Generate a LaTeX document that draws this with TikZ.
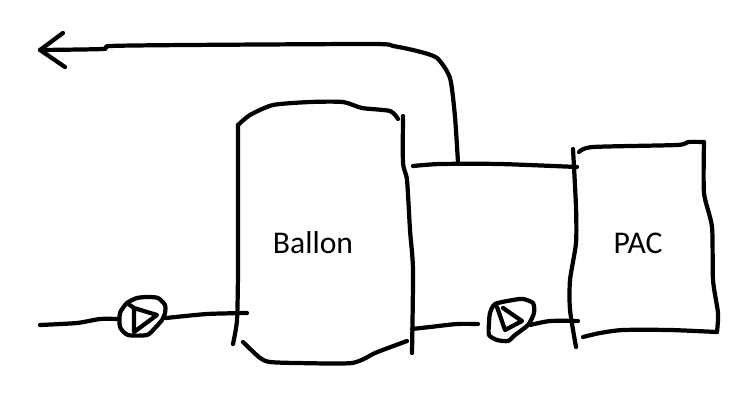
\documentclass[tikz,border=0pt]{standalone}
\usepackage{fontspec}
\setmainfont{Carlito}
\tikzset{
  sketch/.style={line width=2.4pt,line cap=round,line join=round,black},
  wobbly/.style={sketch,smooth,tension=0.4},
  lbl/.style={font=\fontsize{18pt}{22pt}\selectfont,inner sep=0pt}
}
\begin{document}
\begin{tikzpicture}[x=0.02cm,y=-0.02cm]
        \useasboundingbox (0,0) rectangle (756,409);
        \node[lbl] (ballon) at (313,243) {Ballon};
        \node[lbl] (pac) at (638,243) {PAC};
        \coordinate (inlet) at (40,325);
        \coordinate (pumpAin) at (119,319);
        \coordinate (pumpAout) at (166,318);
        \coordinate (ballonIn) at (247,313);
        \coordinate (ballonOut) at (412,329);
        \coordinate (pumpBin) at (478,324);
        \coordinate (pumpBout) at (530,325);
        \coordinate (pacIn) at (578,321);
        \coordinate (pipeL) at (413,166);
        \coordinate (pipeR) at (577,167);
        \coordinate (tee) at (458,163);
        \coordinate (tip) at (40,50);
        % ballon
        \draw[wobbly] plot coordinates {(238,125) (250,115) (273,105) (310,102) (343,102) (362,108) (390,111) (398,119)};
        \draw[wobbly] plot coordinates {(238,125) (238,180) (238,270) (237,320) (233,344)};
        \draw[wobbly] plot coordinates {(403,116) (403,163) (407,180) (410,230) (413,270) (412,353)};
        \draw[wobbly] plot coordinates {(243,342) (260,358) (270,362) (297,363) (352,363) (375,353) (388,348) (407,341)};
        % pac
        \draw[wobbly] plot coordinates {(573,149) (576,207) (576,243) (570,280) (570,310) (576,347)};
        \draw[wobbly] plot coordinates {(579,152) (593,147) (677,145) (688,142) (704,142)};
        \draw[wobbly] plot coordinates {(704,142) (704,193) (712,227) (713,280) (718,313) (717,332)};
        \draw[wobbly] plot coordinates {(717,332) (670,330) (623,330) (600,333) (583,337)};
        % pumps
        \draw[wobbly] plot[smooth cycle] coordinates {(120,313) (127,303) (137,298) (148,297) (158,298) (165,305) (165,313) (162,320) (155,328) (147,335) (128,335) (120,327)};
        \draw[sketch] (127,303) -- (134,308) -- (157,315) -- (134,332) -- (134,308);
        \draw[wobbly] plot[smooth cycle] coordinates {(490,313) (495,304) (513,300) (523,299) (533,303) (534,313) (528,325) (515,335) (508,341) (497,340) (489,335) (489,323)};
        \draw[sketch] (503,308) -- (522,321) -- (505,330) -- (497,307);
        % pipes
        \draw[wobbly] plot coordinates {(inlet) (77,323) (100,319) (pumpAin)};
        \draw[wobbly] plot coordinates {(pumpAout) (207,314) (ballonIn)};
        \draw[wobbly] plot coordinates {(ballonOut) (430,327) (457,324) (pumpBin)};
        \draw[wobbly] plot coordinates {(pumpBout) (550,321) (pacIn)};
        \draw[wobbly] plot coordinates {(pipeL) (440,164) (500,164) (pipeR)};
        \draw[wobbly] plot coordinates {(tee) (455,117) (450,78) (437,58) (417,51) (393,46) (373,44) (187,45) (110,46) (103,49) (tip)};
        \draw[sketch] (63,33) -- (tip) -- (65,67);
    \end{tikzpicture}
\end{document}
